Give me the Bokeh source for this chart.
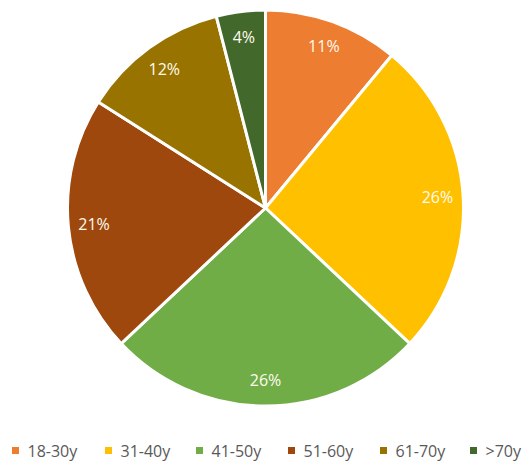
import numpy as np
from bokeh.plotting import figure
from bokeh.models import Range1d, ColumnDataSource
from bokeh.core.properties import value
from bokeh.embed import file_html
from bokeh.resources import INLINE

categories = ["18-30y", "31-40y", "41-50y", "51-60y", "61-70y", ">70y"]
shares = [11, 26, 26, 21, 12, 4]
colors = ["#ED7D31", "#FFC000", "#70AD47", "#9E480E", "#997300", "#43682B"]

W, H = 530, 463
cx, cy, r = 265.0, H - 207.5, 198.0

vals = np.array(shares, dtype=float)
frac = vals / vals.sum()
cum_end = np.cumsum(frac)
cum_start = cum_end - frac
start = np.pi / 2 - 2 * np.pi * cum_end
end = np.pi / 2 - 2 * np.pi * cum_start
mid = (start + end) / 2

src = ColumnDataSource(dict(
    x=[cx] * len(shares), y=[cy] * len(shares),
    start=start, end=end, color=colors,
))

p = figure(width=W, height=H, output_backend="svg", toolbar_location=None,
           x_range=Range1d(0, W), y_range=Range1d(0, H), min_border=0)
p.axis.visible = False
p.grid.visible = False
p.outline_line_color = None
p.background_fill_color = "white"

p.wedge(x="x", y="y", radius=r, start_angle="start", end_angle="end",
        fill_color="color", line_color="white", line_width=3, source=src)

d = 0.87 * r
lab = ColumnDataSource(dict(
    x=cx + d * np.cos(mid), y=cy + d * np.sin(mid),
    t=[f"{s}%" for s in shares],
))
p.text(x="x", y="y", text="t", source=lab, text_align="center",
       text_baseline="middle", text_color="#FFFBF0", text_font_size="16px",
       text_font=value("Open Sans"))

# legend
leg_x = np.array([15, 108, 199, 291, 383, 473], dtype=float)
leg_y = H - 450
p.rect(x=leg_x, y=[leg_y] * 6, width=7, height=7, fill_color=colors,
       line_color=None)
p.text(x=leg_x + 12, y=[leg_y] * 6, text=categories, text_align="left",
       text_baseline="middle", text_color="#595959", text_font_size="16px",
       text_font=value("Open Sans"))

open("out.html", "w").write(file_html(p, INLINE))
